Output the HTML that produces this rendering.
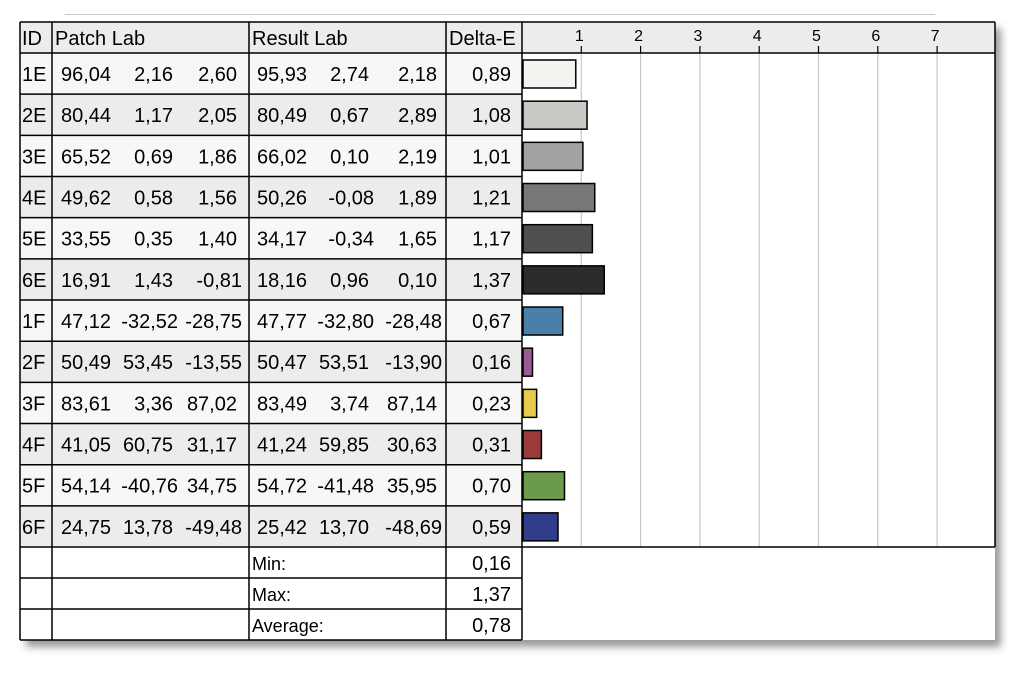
<!DOCTYPE html>
<html><head><meta charset="utf-8"><style>
html,body{margin:0;padding:0;background:#fff;width:1017px;height:675px;overflow:hidden}
svg{display:block;font-family:"Liberation Sans",Arial,sans-serif}
</style></head><body>
<svg width="1017" height="675" viewBox="0 0 1017 675" xmlns="http://www.w3.org/2000/svg">
<defs><filter id="sh" x="-5%" y="-5%" width="115%" height="115%"><feGaussianBlur stdDeviation="4"/></filter></defs>
<line x1="65" y1="14.5" x2="935" y2="14.5" stroke="#c8c8c8" stroke-width="1"/>
<rect x="26" y="28" width="975" height="619" fill="#9a9a9a" filter="url(#sh)"/>
<rect x="20" y="22" width="975" height="618" fill="#fff"/>
<rect x="20" y="22" width="975" height="31" fill="#ececec"/>
<g id="rows"></g>
</svg>
<script>
(function(){
const rows=[
["1E","96,04","2,16","2,60","95,93","2,74","2,18","0,89","#f5f3f0"],
["2E","80,44","1,17","2,05","80,49","0,67","2,89","1,08","#c9c9c6"],
["3E","65,52","0,69","1,86","66,02","0,10","2,19","1,01","#a2a2a2"],
["4E","49,62","0,58","1,56","50,26","-0,08","1,89","1,21","#777777"],
["5E","33,55","0,35","1,40","34,17","-0,34","1,65","1,17","#4f4f4f"],
["6E","16,91","1,43","-0,81","18,16","0,96","0,10","1,37","#2c2c2c"],
["1F","47,12","-32,52","-28,75","47,77","-32,80","-28,48","0,67","#4a7fa8"],
["2F","50,49","53,45","-13,55","50,47","53,51","-13,90","0,16","#9a5a98"],
["3F","83,61","3,36","87,02","83,49","3,74","87,14","0,23","#e6cb4a"],
["4F","41,05","60,75","31,17","41,24","59,85","30,63","0,31","#9b3a3a"],
["5F","54,14","-40,76","34,75","54,72","-41,48","35,95","0,70","#6a9a4a"],
["6F","24,75","13,78","-49,48","25,42","13,70","-48,69","0,59","#2f3d8a"]];
const NS="http://www.w3.org/2000/svg";
const g=document.getElementById("rows");
function el(t,a,txt){const e=document.createElementNS(NS,t);for(const k in a)e.setAttribute(k,a[k]);if(txt!==undefined)e.textContent=txt;g.appendChild(e);return e;}
const y0=53,h=41.17,FS="20";
rows.forEach((r,i)=>{
 const y=y0+i*h;
 el("rect",{x:20,y:y,width:502,height:h,fill:(i%2? "#ececec":"#f7f7f7")});
});
for(let k=1;k<=7;k++){const x=522+k*59.3;el("line",{x1:x,y1:53,x2:x,y2:547,stroke:"#c8c8c8","stroke-width":1.2});
 el("line",{x1:x,y1:46,x2:x,y2:53,stroke:"#000","stroke-width":1.2});
 el("text",{x:x-2,y:41,"font-size":"16","text-anchor":"middle"},String(k));}
rows.forEach((r,i)=>{
 const y=y0+i*h, ty=y+28;
 const v=parseFloat(r[7].replace(",","."));
 el("rect",{x:523,y:y+7,width:v*59.3,height:28,fill:r[8],stroke:"#000","stroke-width":1.5});
 el("text",{x:22,y:ty,"font-size":FS},r[0]);
 el("text",{x:61,y:ty,"font-size":FS},r[1]);
 el("text",{x:257,y:ty,"font-size":FS},r[4]);
 const xs={2:178,3:242,5:374,6:442,7:511};
 for(const j of [2,3,5,6,7]){let x=xs[j];if(j!=7&&r[j][0]!="-")x-=5;
  el("text",{x:x,y:ty,"font-size":FS,"text-anchor":"end"},r[j]);}
 el("line",{x1:20,y1:y,x2:522,y2:y,stroke:"#000","stroke-width":1.5});
});
[["Min:","0,16"],["Max:","1,37"],["Average:","0,78"]].forEach((s,i)=>{
 const y=547+i*31;
 el("line",{x1:20,y1:y,x2:522,y2:y,stroke:"#000","stroke-width":1.5});
 el("text",{x:252,y:y+23,"font-size":"18"},s[0]);
 el("text",{x:511,y:y+23,"font-size":FS,"text-anchor":"end"},s[1]);
});
el("text",{x:22,y:45,"font-size":FS},"ID");
el("text",{x:55,y:45,"font-size":FS},"Patch Lab");
el("text",{x:252,y:45,"font-size":FS},"Result Lab");
el("text",{x:449,y:45,"font-size":FS},"Delta-E");
[[20,22,640],[52,22,640],[249,22,640],[446,22,640],[522,22,640],[995,22,547]].forEach(l=>el("line",{x1:l[0],y1:l[1],x2:l[0],y2:l[2],stroke:"#000","stroke-width":1.5}));
el("line",{x1:20,y1:22,x2:995,y2:22,stroke:"#000","stroke-width":1.5});
el("line",{x1:522,y1:53,x2:995,y2:53,stroke:"#000","stroke-width":1.5});
el("line",{x1:522,y1:547,x2:995,y2:547,stroke:"#000","stroke-width":1.5});
el("line",{x1:20,y1:640,x2:522,y2:640,stroke:"#000","stroke-width":1.5});
})();
</script>
</body></html>
